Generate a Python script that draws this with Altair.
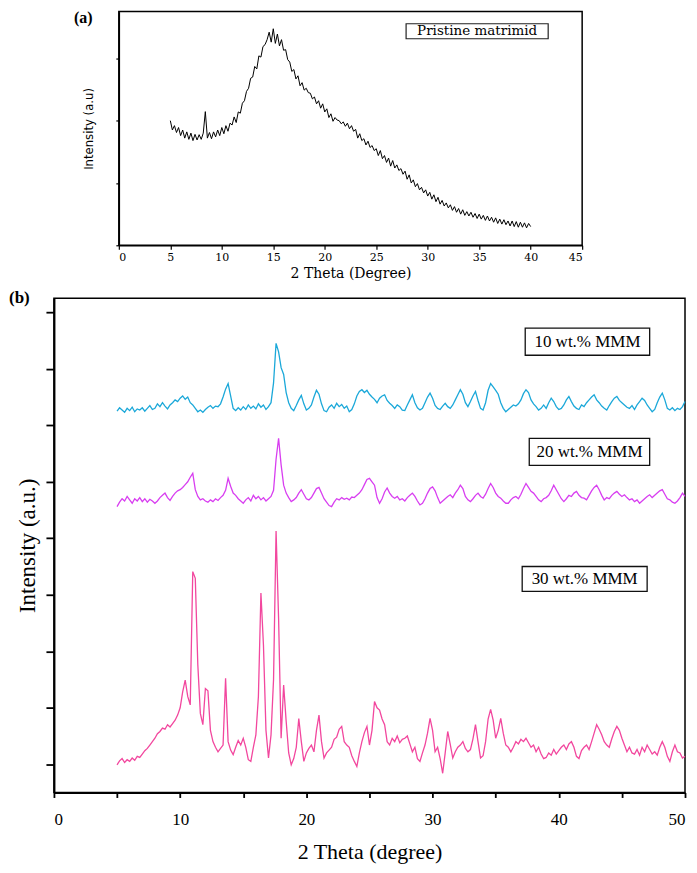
import altair as alt
import pandas as pd

# ---------------- data ----------------
# Panel (a): pristine Matrimid, 2-theta 5.0 .. 40.0 every 0.2 degree
pristine = [
    4.50, 4.20, 4.34, 4.12, 4.28,  4.02, 4.20, 3.94, 4.14, 3.90,
    4.10, 3.86, 4.06, 3.88, 4.05,  3.90, 4.10, 4.79, 3.94, 4.12,
    3.92, 4.14, 3.98, 4.20, 4.02,  4.28, 4.08, 4.34, 4.16, 4.42,
    4.36, 4.62, 4.44, 4.78, 4.74,  5.06, 5.14, 5.44, 5.54, 5.86,
    5.90, 6.24, 6.16, 6.58, 6.54,  6.88, 6.94, 7.10, 7.34, 7.02,
    7.45, 6.98, 7.28, 6.90, 7.10,  6.76, 6.78, 6.46, 6.38, 6.08,
    6.14, 5.84, 5.94, 5.62, 5.72,  5.48, 5.54, 5.40, 5.38, 5.20,
    5.26, 5.04, 5.14, 4.90, 5.04,  4.78, 4.88, 4.60, 4.72, 4.48,
    4.60, 4.52, 4.50, 4.40, 4.46,  4.32, 4.42, 4.24, 4.34, 4.16,
    4.22, 3.94, 4.08, 3.86, 3.92,  3.72, 3.84, 3.64, 3.70, 3.54,
    3.60, 3.38, 3.54, 3.28, 3.38,  3.16, 3.30, 3.04, 3.22, 2.98,
    3.08, 2.90, 2.96, 2.78, 2.88,  2.62, 2.76, 2.50, 2.60, 2.38,
    2.48, 2.28, 2.36, 2.18, 2.28,  2.08, 2.20, 1.98, 2.12, 1.90,
    2.04, 1.82, 1.94, 1.76, 1.86,  1.70, 1.80, 1.62, 1.74, 1.56,
    1.68, 1.50, 1.64, 1.46, 1.58,  1.44, 1.56, 1.40, 1.52, 1.36,
    1.50, 1.34, 1.46, 1.30, 1.44,  1.28, 1.40, 1.24, 1.38, 1.20,
    1.34, 1.18, 1.32, 1.16, 1.28,  1.12, 1.28, 1.10, 1.26, 1.08,
    1.24, 1.08, 1.22, 1.06, 1.20,  1.10,
]

# Panel (b): 2-theta 5.0 .. 50.0 every 0.2 degree (offset curves)
mmm10 = [
    6.25, 6.31, 6.27, 6.23, 6.30,  6.26, 6.32, 6.24, 6.29, 6.27,
    6.31, 6.25, 6.30, 6.35, 6.28,  6.30, 6.38, 6.33, 6.40, 6.34,
    6.29, 6.36, 6.40, 6.45, 6.42,  6.48, 6.52, 6.46, 6.50, 6.40,
    6.36, 6.30, 6.24, 6.27, 6.23,  6.28, 6.32, 6.35, 6.30, 6.34,
    6.33, 6.38, 6.50, 6.64, 6.74,  6.52, 6.30, 6.26, 6.31, 6.27,
    6.33, 6.28, 6.36, 6.30, 6.34,  6.29, 6.38, 6.32, 6.36, 6.28,
    6.33, 6.40, 6.75, 7.45, 7.30,  7.02, 6.90, 6.58, 6.40, 6.30,
    6.26, 6.35, 6.45, 6.53, 6.38,  6.27, 6.30, 6.36, 6.50, 6.62,
    6.55, 6.38, 6.26, 6.24, 6.32,  6.36, 6.30, 6.39, 6.33, 6.37,
    6.30, 6.34, 6.24, 6.28, 6.38,  6.52, 6.60, 6.63, 6.58, 6.62,
    6.55, 6.50, 6.46, 6.40, 6.48,  6.52, 6.54, 6.44, 6.39, 6.35,
    6.30, 6.36, 6.33, 6.27, 6.26,  6.36, 6.45, 6.54, 6.40, 6.31,
    6.27, 6.30, 6.40, 6.50, 6.57,  6.48, 6.35, 6.30, 6.28, 6.34,
    6.39, 6.33, 6.30, 6.36, 6.45,  6.54, 6.63, 6.55, 6.40, 6.33,
    6.42, 6.52, 6.60, 6.44, 6.30,  6.27, 6.40, 6.62, 6.74, 6.68,
    6.62, 6.55, 6.40, 6.30, 6.24,  6.28, 6.32, 6.36, 6.34, 6.38,
    6.45, 6.56, 6.63, 6.58, 6.45,  6.38, 6.33, 6.27, 6.30, 6.36,
    6.30, 6.40, 6.48, 6.42, 6.33,  6.28, 6.30, 6.36, 6.45, 6.51,
    6.42, 6.34, 6.30, 6.28, 6.36,  6.33, 6.40, 6.45, 6.50, 6.54,
    6.45, 6.40, 6.34, 6.30, 6.27,  6.35, 6.42, 6.48, 6.51, 6.44,
    6.40, 6.36, 6.32, 6.30, 6.35,  6.28, 6.36, 6.42, 6.48, 6.44,
    6.36, 6.30, 6.24, 6.28, 6.40,  6.50, 6.57, 6.45, 6.30, 6.27,
    6.31, 6.26, 6.30, 6.28, 6.33,  6.42,
]
mmm20 = [
    4.56, 4.64, 4.70, 4.66, 4.74,  4.68, 4.62, 4.70, 4.66, 4.72,
    4.65, 4.70, 4.64, 4.69, 4.66,  4.62, 4.66, 4.72, 4.76, 4.80,
    4.72, 4.67, 4.74, 4.80, 4.84,  4.86, 4.90, 4.95, 5.00, 5.08,
    5.15, 4.86, 4.74, 4.68, 4.70,  4.66, 4.64, 4.68, 4.65, 4.70,
    4.67, 4.72, 4.76, 4.85, 5.06,  4.92, 4.80, 4.76, 4.70, 4.66,
    4.62, 4.68, 4.72, 4.66, 4.76,  4.70, 4.74, 4.68, 4.72, 4.66,
    4.70, 4.74, 4.85, 5.40, 5.77,  5.30, 4.94, 4.80, 4.72, 4.65,
    4.68, 4.72, 4.80, 4.86, 4.78,  4.70, 4.68, 4.72, 4.80, 4.88,
    4.90, 4.80, 4.70, 4.64, 4.58,  4.56, 4.64, 4.70, 4.68, 4.72,
    4.69, 4.71, 4.68, 4.73, 4.72,  4.76, 4.80, 4.86, 4.95, 5.04,
    5.06, 5.00, 4.94, 4.72, 4.62,  4.70, 4.82, 4.89, 4.80, 4.74,
    4.71, 4.74, 4.68, 4.70, 4.66,  4.72, 4.76, 4.80, 4.74, 4.66,
    4.59, 4.62, 4.70, 4.80, 4.88,  4.91, 4.84, 4.72, 4.62, 4.66,
    4.70, 4.74, 4.77, 4.72, 4.80,  4.86, 4.94, 4.88, 4.74, 4.68,
    4.65, 4.70, 4.76, 4.80, 4.74,  4.71, 4.78, 4.88, 4.97, 4.90,
    4.80, 4.74, 4.71, 4.66, 4.62,  4.62, 4.68, 4.72, 4.74, 4.70,
    4.78, 4.88, 4.97, 4.90, 4.83,  4.80, 4.74, 4.68, 4.65, 4.70,
    4.72, 4.76, 4.84, 4.94, 4.86,  4.78, 4.70, 4.65, 4.70, 4.76,
    4.74, 4.80, 4.83, 4.76, 4.72,  4.71, 4.68, 4.76, 4.84, 4.90,
    4.94, 4.86, 4.76, 4.68, 4.72,  4.70, 4.76, 4.80, 4.83, 4.78,
    4.74, 4.77, 4.72, 4.68, 4.70,  4.65, 4.68, 4.62, 4.66, 4.70,
    4.74, 4.77, 4.72, 4.76, 4.80,  4.84, 4.86, 4.78, 4.70, 4.68,
    4.64, 4.62, 4.66, 4.72, 4.80,  4.74,
]
mmm30 = [
    -0.01, 0.06, 0.10, 0.03, 0.08,  0.05, 0.11, 0.07, 0.14, 0.12,
    0.18, 0.24, 0.28, 0.34, 0.40,  0.46, 0.54, 0.58, 0.64, 0.62,
    0.70, 0.66, 0.72, 0.78, 0.87,  1.00, 1.28, 1.49, 1.20, 1.05,
    3.41, 3.29, 1.76, 0.90, 0.70,  1.34, 1.30, 0.60, 0.40, 0.30,
    0.22, 0.28, 0.34, 1.52, 0.40,  0.25, 0.17, 0.30, 0.42, 0.34,
    0.46, 0.30, 0.08, 0.05, 0.30,  0.52, 1.20, 3.03, 2.11, 0.60,
    0.11, 0.52, 1.50, 4.13, 2.58,  0.46, 1.40, 0.76, 0.20, -0.01,
    0.10, 0.30, 0.81, 0.40, 0.05,  0.20, 0.28, 0.34, 0.22, 0.60,
    0.87, 0.40, 0.11, 0.20, 0.25,  0.30, 0.44, 0.48, 0.62, 0.67,
    0.40, 0.34, 0.30, 0.15, 0.05,  -0.04, 0.20, 0.40, 0.56, 0.67,
    0.34, 0.60, 1.11, 1.00, 0.96,  0.80, 0.70, 0.40, 0.34, 0.46,
    0.40, 0.50, 0.38, 0.44, 0.46,  0.50, 0.36, 0.22, 0.30, 0.10,
    0.05, 0.20, 0.34, 0.55, 0.81,  0.60, 0.22, 0.30, 0.10, -0.16,
    0.20, 0.58, 0.35, 0.11, 0.22,  0.30, 0.34, 0.40, 0.28, 0.22,
    0.26, 0.45, 0.70, 0.40, 0.11,  0.15, 0.40, 0.80, 0.97, 0.78,
    0.46, 0.60, 0.81, 0.55, 0.34,  0.30, 0.22, 0.30, 0.40, 0.36,
    0.44, 0.40, 0.46, 0.38, 0.30,  0.34, 0.22, 0.30, 0.18, 0.10,
    0.12, 0.20, 0.16, 0.26, 0.18,  0.24, 0.30, 0.34, 0.26, 0.36,
    0.40, 0.30, 0.14, 0.10, 0.24,  0.30, 0.34, 0.26, 0.40, 0.55,
    0.70, 0.62, 0.52, 0.40, 0.34,  0.30, 0.45, 0.58, 0.67, 0.60,
    0.46, 0.34, 0.22, 0.30, 0.20,  0.18, 0.26, 0.16, 0.30, 0.22,
    0.34, 0.26, 0.18, 0.22, 0.16,  0.30, 0.40, 0.30, 0.14, 0.05,
    0.22, 0.34, 0.22, 0.20, 0.11,  0.14,
]

series_names = ["10 wt.% MMM", "20 wt.% MMM", "30 wt.% MMM"]
series_colors = ["#1ba8d9", "#d83ef0", "#f2479e"]

# annotation boxes (data units)
a_box = {"label": "Pristine matrimid", "x1": 27.9, "x2": 41.7, "y1": 7.13, "y2": 7.61}
b_boxes = pd.DataFrame({
    "label": series_names,
    "x1": [37.34, 37.66, 37.10],
    "x2": [47.20, 47.20, 47.00],
    "y1": [7.24, 5.29, 3.06],
    "y2": [7.72, 5.77, 3.50],
})
b_boxes["xc"] = (b_boxes["x1"] + b_boxes["x2"]) / 2
b_boxes["yc"] = (b_boxes["y1"] + b_boxes["y2"]) / 2

# ---------------- tables ----------------
a_x = [round(5.0 + 0.2 * i, 1) for i in range(len(pristine))]
df_a = pd.DataFrame({"x": a_x, "y": pristine})

b_x = [round(5.0 + 0.2 * i, 1) for i in range(len(mmm10))]
df_b = pd.concat([
    pd.DataFrame({"x": b_x, "y": vals, "series": name})
    for name, vals in zip(series_names, [mmm10, mmm20, mmm30])
], ignore_index=True)

df_abox = pd.DataFrame([a_box])
df_abox["xc"] = (df_abox["x1"] + df_abox["x2"]) / 2
df_abox["yc"] = (df_abox["y1"] + df_abox["y2"]) / 2

SERIF = "Liberation Serif"
SERIF_A = "DejaVu Serif"

# ---------------- panel (a) ----------------
A_W, A_H = 464, 234
xa_scale = alt.Scale(domain=[0, 45], nice=False, zero=False)
ya_scale = alt.Scale(domain=[0.5, 8], nice=False, zero=False)

xa_axis = alt.Axis(
    values=[i * 2.5 for i in range(19)],
    labelExpr="datum.value % 5 === 0 ? format(datum.value, 'd') : ''",
    tickSize=4, tickWidth=1.2, domainWidth=1.5,
    labelFont=SERIF_A, labelFontSize=11, labelPadding=2,
    title="2 Theta (Degree)", titleFont=SERIF_A, titleFontSize=14,
    titleFontWeight="normal", titlePadding=4, grid=False,
)
ya_axis = alt.Axis(
    values=[0.5 + 0.5 * i for i in range(16)],
    labels=False,
    tickSize={"condition": {"test": "datum.value % 1 === 0", "value": 6}, "value": 3},
    tickWidth=1.2, domainWidth=1.5,
    title="Intensity (a.u)",
    titleFont="Liberation Sans Narrow, DejaVu Sans Condensed, Arial Narrow, sans-serif",
    titleFontSize=13, titleFontWeight="normal", titlePadding=20, grid=False,
)

line_a = alt.Chart(df_a).mark_line(color="black", strokeWidth=1.0).encode(
    x=alt.X("x:Q", scale=xa_scale, axis=xa_axis),
    y=alt.Y("y:Q", scale=ya_scale, axis=ya_axis),
)
box_a = alt.Chart(df_abox).mark_rect(fill="white", stroke="#222222", strokeWidth=1.2).encode(
    x=alt.X("x1:Q", scale=xa_scale), x2="x2:Q",
    y=alt.Y("y1:Q", scale=ya_scale), y2="y2:Q",
)
text_a = alt.Chart(df_abox).mark_text(font=SERIF_A, fontSize=13.5, color="black").encode(
    x=alt.X("xc:Q", scale=xa_scale), y=alt.Y("yc:Q", scale=ya_scale), text="label:N",
)
tag_a = alt.Chart(pd.DataFrame({"t": ["(a)"]})).mark_text(
    font=SERIF, fontSize=16, fontWeight="bold", align="left", baseline="top", color="black"
).encode(x=alt.value(-45), y=alt.value(-2), text="t:N")

panel_a = alt.layer(line_a, box_a, text_a, tag_a).properties(width=A_W, height=A_H)

spacer = alt.Chart(pd.DataFrame({"v": [0]})).mark_point(opacity=0).encode(
    x=alt.X("v:Q", axis=None), y=alt.Y("v:Q", axis=None)
).properties(width=19, height=100, view=alt.ViewBackground(strokeOpacity=0))

top_row = alt.hconcat(spacer, panel_a, spacing=0)

# ---------------- panel (b) ----------------
B_W, B_H = 632, 495
xb_scale = alt.Scale(domain=[0, 50], nice=False, zero=False)
yb_scale = alt.Scale(domain=[-0.5, 8.25], nice=False, zero=False)

xb_axis = alt.Axis(
    values=[5 * i for i in range(11)],
    labelExpr="datum.value % 10 === 0 ? format(datum.value, 'd') : ''",
    tickSize=5, tickWidth=1.8, domainWidth=2,
    labelFont=SERIF, labelFontSize=17, labelPadding=14,
    title="2 Theta (degree)", titleFont=SERIF, titleFontSize=22,
    titleFontWeight="normal", titlePadding=14, grid=False,
)
yb_axis = alt.Axis(
    values=[0.5 * i for i in range(17)],
    labels=False,
    tickSize={"condition": {"test": "datum.value % 1 === 0", "value": 8}, "value": 4},
    tickWidth=1.8, domainWidth=2,
    title="Intensity (a.u.)", titleFont=SERIF, titleFontSize=23,
    titleFontWeight="normal", titlePadding=6, grid=False,
)

line_b = alt.Chart(df_b).mark_line(strokeWidth=1.3).encode(
    x=alt.X("x:Q", scale=xb_scale, axis=xb_axis),
    y=alt.Y("y:Q", scale=yb_scale, axis=yb_axis),
    color=alt.Color("series:N", scale=alt.Scale(domain=series_names, range=series_colors), legend=None),
    detail="series:N",
)
box_b = alt.Chart(b_boxes).mark_rect(fill="white", stroke="#111111", strokeWidth=1.3).encode(
    x=alt.X("x1:Q", scale=xb_scale), x2="x2:Q",
    y=alt.Y("y1:Q", scale=yb_scale), y2="y2:Q",
)
text_b = alt.Chart(b_boxes).mark_text(font=SERIF, fontSize=17, color="black").encode(
    x=alt.X("xc:Q", scale=xb_scale), y=alt.Y("yc:Q", scale=yb_scale), text="label:N",
)
tag_b = alt.Chart(pd.DataFrame({"t": ["(b)"]})).mark_text(
    font=SERIF, fontSize=17, fontWeight="bold", align="left", baseline="middle", color="black"
).encode(x=alt.value(-45), y=alt.value(0), text="t:N")

panel_b = alt.layer(line_b, box_b, text_b, tag_b).properties(width=B_W, height=B_H)

chart = alt.vconcat(top_row, panel_b, spacing=7).properties(
    padding={"left": 0, "top": 0, "right": 0, "bottom": 0}
).configure_view(
    stroke="black", strokeWidth=1.5
).configure_axis(
    domainColor="black", tickColor="black", labelColor="black", titleColor="black"
)

chart.save("out.html", embed_options={"renderer": "svg", "actions": False})
